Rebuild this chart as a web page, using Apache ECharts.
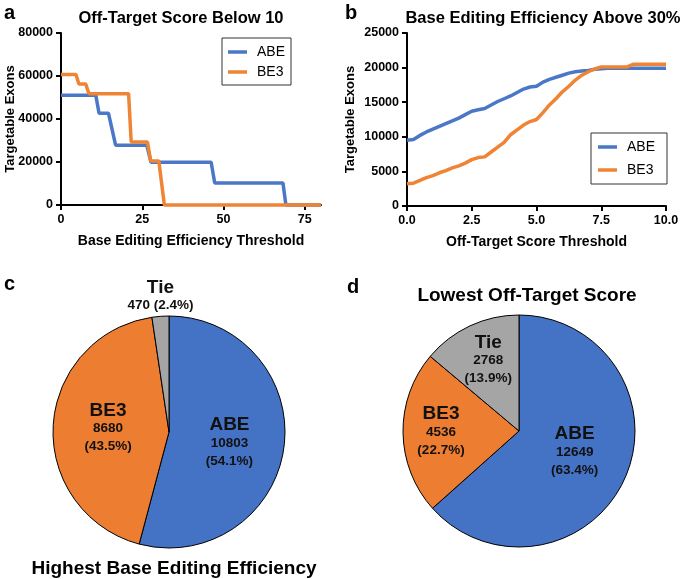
<!DOCTYPE html>
<html>
<head>
<meta charset="utf-8">
<script src="https://cdn.jsdelivr.net/npm/echarts@6/dist/echarts.min.js"></script>
<style>
html, body { margin: 0; padding: 0; background: #fff; }
#main { width: 683px; height: 579px; }
</style>
</head>
<body>
<div id="main"></div>
<script>
// a: off-target score below 10, x = base editing efficiency threshold
var abeA = [[0,51100],[10.7,51100],[11.7,42700],[14.6,42700],[16.8,27800],[26.4,27800],[27.7,19900],[46.2,19900],[47.3,10200],[68.3,10200],[69.2,0],[80,0]];
var be3A = [[0,60700],[4.6,60700],[5.5,56300],[7.6,56300],[8.6,51800],[20.8,51800],[21.6,29300],[26.6,29300],[27.6,20500],[30.1,20500],[31.8,0],[80,0]];
var effTicks = [0, 25, 50, 75];

// b: efficiency above 30%, x = off-target score threshold
var scoreX = [0,0.25,0.5,0.75,1,1.25,1.5,1.75,2,2.25,2.5,2.75,3,3.25,3.5,3.75,4,4.25,4.5,4.75,5,5.25,5.5,5.75,6,6.25,6.5,6.75,7,7.25,7.5,7.75,8,8.25,8.5,8.75,9,9.25,9.5,9.75,10];
var abeB = [9500,9600,10200,10700,11100,11500,11900,12300,12700,13200,13700,13900,14100,14600,15100,15500,15900,16400,16900,17200,17300,17900,18300,18600,18900,19200,19400,19500,19600,19750,19850,19900,19900,19900,19900,19900,19900,19900,19900,19900,19900];
var be3B = [3200,3300,3700,4100,4400,4800,5100,5500,5800,6200,6700,7000,7100,7800,8500,9200,10300,11000,11700,12200,12500,13500,14600,15500,16500,17300,18200,18900,19400,19800,20100,20100,20100,20100,20100,20500,20500,20500,20500,20500,20500];

// c, d: pie counts
var pieNames = ['ABE', 'BE3', 'Tie'];
var effWin = [10803, 8680, 470];
var scoreWin = [12649, 4536, 2768];

var blueLine = '#4a78c6', orangeLine = '#ee8434';
var pieColors = ['#4472c4', '#ed7d31', '#a5a5a5'];

function pairs(xs, ys) {
    return xs.map(function (x, i) { return [x, ys[i]]; });
}

function pieLabel(p) {
    return '{n|' + p.name + '}\n{v|' + p.value + '}\n{v|(' + p.percent.toFixed(1) + '%)}';
}
function pieLabelWide(p) {
    return '{n|' + p.name + '}\n{v|' + p.value + ' (' + p.percent.toFixed(1) + '%)}';
}

var labelRich = {
    n: { fontSize: 19, fontWeight: 'bold', lineHeight: 18, color: '#111' },
    v: { fontSize: 13.5, fontWeight: 'bold', lineHeight: 18, color: '#111' }
};

function pieData(vals, outsideIdx) {
    return vals.map(function (v, i) {
        var d = { name: pieNames[i], value: v, itemStyle: { color: pieColors[i] } };
        if (i === outsideIdx) {
            d.label = { position: 'outside', formatter: pieLabelWide };
            d.labelLine = { show: false, length: 0, length2: 0 };
        }
        return d;
    });
}

var axisLine = { show: true, lineStyle: { color: '#000', width: 2 } };
var axisTick = { show: true, length: 5, lineStyle: { color: '#000', width: 2 } };
var tickFont = { fontSize: 12.5, fontWeight: 'bold', color: '#000' };
var plainNum = function (v) { return String(v); };

function titleItem(text, left, top, size, align) {
    return {
        text: text, left: left, top: top, padding: 0, textAlign: align || 'left',
        textStyle: { fontSize: size, fontWeight: 'bold', color: '#000' }
    };
}

function legendItem(left, top, pad, gap) {
    return {
        data: ['ABE', 'BE3'], left: left, top: top, orient: 'vertical',
        icon: 'rect', itemWidth: 19, itemHeight: 3.5, itemGap: gap,
        padding: pad, borderColor: '#333', borderWidth: 1,
        selectedMode: false,
        textStyle: { fontSize: 14, color: '#000', padding: [0, 0, 0, 5] }
    };
}

var chart = echarts.init(document.getElementById('main'));

var option = {
    animation: false,
    backgroundColor: '#fff',
    textStyle: { fontFamily: 'Liberation Sans, Arial, sans-serif' },
    title: [
        titleItem('a', 4, 3, 20),
        titleItem('Off-Target Score Below 10', 181, 10, 16.5, 'center'),
        titleItem('b', 345, 3, 20),
        titleItem('Base Editing Efficiency Above 30%', 543, 10, 16.5, 'center'),
        titleItem('c', 4, 274, 20),
        titleItem('Highest Base Editing Efficiency', 174, 559, 19, 'center'),
        titleItem('d', 347, 277, 20),
        titleItem('Lowest Off-Target Score', 527, 286, 19, 'center')
    ],
    legend: [
        legendItem(222, 38, [7, 6, 6, 6], 6),
        legendItem(591, 133, [7, 12, 7, 7], 9)
    ],
    grid: [
        { left: 61, top: 33, width: 260, height: 172 },
        { left: 407, top: 33, width: 259, height: 173 }
    ],
    xAxis: [
        {
            gridIndex: 0, type: 'value', min: 0, max: 80, interval: 25,
            axisLine: axisLine,
            axisTick: Object.assign({ customValues: effTicks }, axisTick),
            axisLabel: Object.assign({ customValues: effTicks }, tickFont),
            splitLine: { show: false },
            name: 'Base Editing Efficiency Threshold', nameLocation: 'middle', nameGap: 29,
            nameTextStyle: { fontSize: 14, fontWeight: 'bold', color: '#000' }
        },
        {
            gridIndex: 1, type: 'value', min: 0, max: 10, interval: 2.5,
            axisLine: axisLine, axisTick: axisTick,
            axisLabel: Object.assign({ formatter: function (v) { return v.toFixed(1); } }, tickFont),
            splitLine: { show: false },
            name: 'Off-Target Score Threshold', nameLocation: 'middle', nameGap: 29,
            nameTextStyle: { fontSize: 14, fontWeight: 'bold', color: '#000' }
        }
    ],
    yAxis: [
        {
            gridIndex: 0, type: 'value', min: 0, max: 80000, interval: 20000,
            axisLine: axisLine, axisTick: axisTick,
            axisLabel: Object.assign({ formatter: plainNum }, tickFont),
            splitLine: { show: false },
            name: 'Targetable Exons', nameLocation: 'middle', nameGap: 44, nameMoveOverlap: false,
            nameTextStyle: { fontSize: 13, fontWeight: 'bold', color: '#000' }
        },
        {
            gridIndex: 1, type: 'value', min: 0, max: 25000, interval: 5000,
            axisLine: axisLine, axisTick: axisTick,
            axisLabel: Object.assign({ formatter: plainNum }, tickFont),
            splitLine: { show: false },
            name: 'Targetable Exons', nameLocation: 'middle', nameGap: 50, nameMoveOverlap: false,
            nameTextStyle: { fontSize: 13, fontWeight: 'bold', color: '#000' }
        }
    ],
    series: [
        {
            name: 'ABE', type: 'line', xAxisIndex: 0, yAxisIndex: 0, data: abeA,
            symbol: 'none', clip: false, color: blueLine,
            lineStyle: { width: 3.5, color: blueLine }
        },
        {
            name: 'BE3', type: 'line', xAxisIndex: 0, yAxisIndex: 0, data: be3A,
            symbol: 'none', clip: false, color: orangeLine,
            lineStyle: { width: 3.5, color: orangeLine }
        },
        {
            name: 'ABE', type: 'line', xAxisIndex: 1, yAxisIndex: 1, data: pairs(scoreX, abeB),
            symbol: 'none', clip: false, color: blueLine,
            lineStyle: { width: 3.5, color: blueLine }
        },
        {
            name: 'BE3', type: 'line', xAxisIndex: 1, yAxisIndex: 1, data: pairs(scoreX, be3B),
            symbol: 'none', clip: false, color: orangeLine,
            lineStyle: { width: 3.5, color: orangeLine }
        },
        {
            type: 'pie', center: [169, 432], radius: 116, startAngle: 90, clockwise: true,
            percentPrecision: 1, avoidLabelOverlap: false, silent: true,
            itemStyle: { borderColor: '#000', borderWidth: 1 },
            label: { position: 'inside', formatter: pieLabel, rich: labelRich },
            labelLine: { show: false },
            labelLayout: function (p) {
                if (p.dataIndex === 2) return { align: 'center', verticalAlign: 'bottom', dx: 5, dy: -2 };
                if (p.dataIndex === 0) return { dy: 3 };
                return {};
            },
            data: pieData(effWin, 2)
        },
        {
            type: 'pie', center: [519, 431], radius: 116, startAngle: 90, clockwise: true,
            percentPrecision: 1, avoidLabelOverlap: false, silent: true,
            itemStyle: { borderColor: '#000', borderWidth: 1 },
            label: { position: 'inside', formatter: pieLabel, rich: labelRich },
            labelLine: { show: false },
            labelLayout: function (p) {
                if (p.dataIndex === 1) return { dx: -17, dy: 0 };
                if (p.dataIndex === 2) return { dx: -5, dy: -15 };
                return { dy: -4 };
            },
            data: pieData(scoreWin, -1)
        }
    ]
};

chart.setOption(option);
</script>
</body>
</html>
